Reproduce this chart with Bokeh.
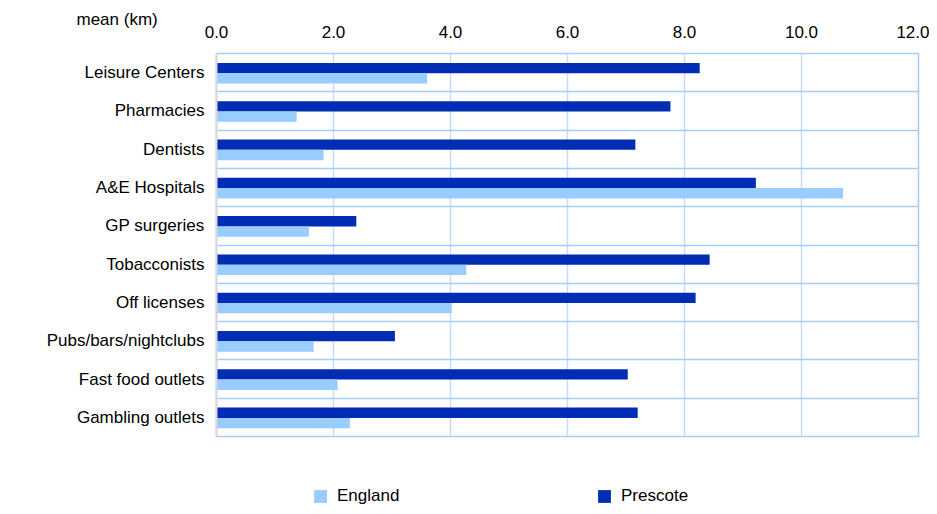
from bokeh.plotting import figure
from bokeh.layouts import column
from bokeh.models import (ColumnDataSource, FactorRange, Range1d, FixedTicker,
                          NumeralTickFormatter, Legend, LegendItem)
from bokeh.transform import dodge
from bokeh.embed import file_html
from bokeh.resources import INLINE

# ---- data (top to bottom as shown) ----
categories = ["Leisure Centers", "Pharmacies", "Dentists", "A&E Hospitals",
              "GP surgeries", "Tobacconists", "Off licenses",
              "Pubs/bars/nightclubs", "Fast food outlets", "Gambling outlets"]
prescote = [8.26, 7.76, 7.16, 9.22, 2.39, 8.43, 8.19, 3.05, 7.03, 7.20]
england = [3.60, 1.37, 1.83, 10.71, 1.58, 4.27, 4.02, 1.66, 2.07, 2.28]
x_ticks = [0, 2, 4, 6, 8, 10, 12]
series_names = ["England", "Prescote"]
unit_caption = "mean (km)"

FONT = "Liberation Sans"
C_ENG = "#99CCFF"
C_PRE = "#002DB3"

source = ColumnDataSource(dict(cat=categories, prescote=prescote, england=england))

factors = list(reversed(categories))
p = figure(width=929, height=476, output_backend="svg", toolbar_location=None,
           x_axis_location="above",
           x_range=Range1d(x_ticks[0], x_ticks[-1]),
           y_range=FactorRange(factors=factors, range_padding=0))
p.y_range.factor_padding = 0
p.min_border_left = 216
p.min_border_right = 11
p.min_border_top = 53
p.min_border_bottom = 40
p.outline_line_color = "#a6cdf7"
p.outline_line_width = 1.5
p.background_fill_color = "white"
p.border_fill_color = "white"

# caption as a left-aligned title shifted left of the frame
p.title.text = unit_caption
p.title.align = "left"
p.title.offset = -140
p.title.text_font = FONT
p.title.text_font_size = "17px"
p.title.text_font_style = "normal"
p.title.text_color = "#000000"
p.title.standoff = -13

p.hbar(y=dodge("cat", 0.12, range=p.y_range), right="prescote", left=0,
       height=0.27, color=C_PRE, line_color=None, source=source)
p.hbar(y=dodge("cat", -0.15, range=p.y_range), right="england", left=0,
       height=0.27, color=C_ENG, line_color=None, source=source)

# x axis (top)
xa = p.xaxis[0]
xa.ticker = FixedTicker(ticks=x_ticks)
xa.formatter = NumeralTickFormatter(format="0.0")
xa.axis_line_color = None
xa.major_tick_line_color = None
xa.minor_tick_line_color = None
xa.major_tick_out = 0
xa.major_tick_in = 0
xa.major_label_standoff = 16
xa.major_label_text_font = FONT
xa.major_label_text_font_size = "17px"
xa.major_label_text_color = "#000000"

# y axis (left)
ya = p.yaxis[0]
ya.axis_line_color = "#d9d9d9"
ya.axis_line_width = 2
ya.major_tick_line_color = None
ya.minor_tick_line_color = None
ya.major_tick_out = 0
ya.major_tick_in = 0
ya.major_label_standoff = 12
ya.major_label_text_font = FONT
ya.major_label_text_font_size = "17px"
ya.major_label_text_color = "#000000"

# grids
p.xgrid.grid_line_color = "#c6dcf4"
p.xgrid.grid_line_width = 1.5
p.ygrid.ticker = FixedTicker(ticks=list(range(len(categories) + 1)))
p.ygrid.grid_line_color = "#a6cdf7"
p.ygrid.grid_line_width = 1.5

# ---- legend strip below the chart ----
p2 = figure(width=929, height=30, output_backend="svg", toolbar_location=None,
            x_range=Range1d(0, 1), y_range=Range1d(0, 1), min_border=0)
p2.axis.visible = False
p2.grid.visible = False
p2.outline_line_color = None
p2.background_fill_color = "white"
p2.border_fill_color = "white"
# zero-length legend keys (nothing visible in the strip itself)
key_src = ColumnDataSource(dict(y=[0.5], right=[0]))
l_eng = p2.hbar(y="y", right="right", left=0, height=0.5, color=C_ENG,
                line_color=None, source=key_src)
l_pre = p2.hbar(y="y", right="right", left=0, height=0.5, color=C_PRE,
                line_color=None, source=key_src)

legend = Legend(items=[LegendItem(label=series_names[0], renderers=[l_eng]),
                       LegendItem(label=series_names[1], renderers=[l_pre])],
                orientation="horizontal", location=(96, 0),
                padding=0, margin=0, spacing=10, label_standoff=9,
                glyph_width=16, glyph_height=16, label_width=249, label_height=16,
                label_text_font=FONT, label_text_font_size="17px",
                label_text_color="#000000",
                border_line_color=None, background_fill_alpha=0)
p2.add_layout(legend)

layout = column(p, p2, spacing=0)
open("out.html", "w").write(file_html(layout, INLINE))
